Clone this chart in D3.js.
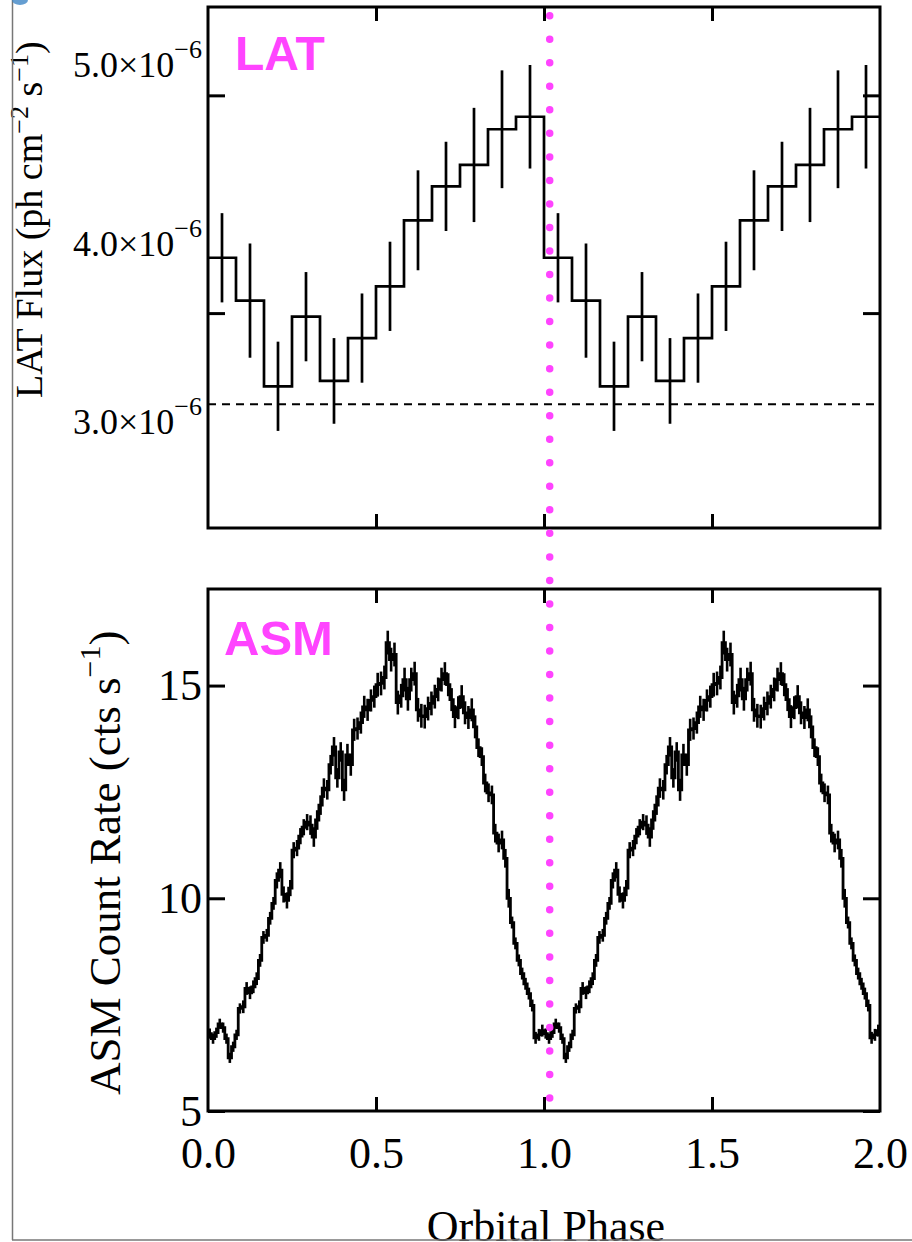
<!DOCTYPE html>
<html>
<head>
<meta charset="utf-8">
<script src="https://cdn.jsdelivr.net/npm/d3@7"></script>
<style>
  body { margin: 0; background: #fff; }
  svg { display: block; }
</style>
</head>
<body>
<script>
// LAT flux, 12 phase bins over one orbit (ph cm^-2 s^-1)
const latFlux = [3.92e-6, 3.68e-6, 3.20e-6, 3.59e-6, 3.23e-6, 3.47e-6,
                 3.76e-6, 4.13e-6, 4.32e-6, 4.44e-6, 4.64e-6, 4.71e-6];
const latErr  = [0.25e-6, 0.32e-6, 0.25e-6, 0.25e-6, 0.24e-6, 0.25e-6,
                 0.25e-6, 0.28e-6, 0.25e-6, 0.32e-6, 0.33e-6, 0.29e-6];
const latBaseline = 3.10e-6;
const latLabelTicks = [3e-6, 4e-6, 5e-6];
const latTickMarks = [4.83e-6, 3.61e-6];

// ASM count rate, 100 phase bins over one orbit (cts s^-1)
const asmRate = [
  6.82, 6.70, 6.84, 7.05, 6.96, 6.70, 6.25, 6.51, 6.79, 7.41,
  7.45, 7.88, 7.78, 7.92, 8.11, 8.54, 9.08, 9.13, 9.53, 9.88,
  10.42, 10.66, 10.09, 9.95, 10.24, 11.13, 11.18, 11.46, 11.67, 11.79,
  11.72, 11.44, 11.84, 12.19, 12.59, 12.55, 13.14, 13.56, 12.83, 13.44,
  12.55, 13.37, 13.14, 13.96, 13.99, 14.13, 14.50, 14.43, 14.65, 14.74,
  15.02, 15.05, 15.19, 16.01, 15.61, 15.73, 14.60, 14.76, 15.14, 14.69,
  15.14, 15.28, 14.43, 14.29, 14.27, 14.46, 14.58, 14.74, 14.91, 15.14,
  15.28, 15.02, 14.67, 14.27, 14.48, 14.74, 14.36, 14.25, 14.43, 14.03,
  13.54, 13.33, 12.71, 12.48, 12.43, 11.53, 11.30, 11.37, 10.94, 10.00,
  9.43, 8.94, 8.54, 8.23, 7.99, 7.76, 7.48, 6.72, 6.79, 6.89
];
const asmErr = [
  0.12, 0.12, 0.12, 0.12, 0.12, 0.12, 0.12, 0.12, 0.12, 0.12,
  0.15, 0.15, 0.15, 0.15, 0.15, 0.15, 0.15, 0.15, 0.15, 0.15,
  0.19, 0.19, 0.19, 0.19, 0.19, 0.19, 0.19, 0.19, 0.19, 0.19,
  0.23, 0.23, 0.23, 0.23, 0.23, 0.23, 0.23, 0.23, 0.23, 0.23,
  0.26, 0.26, 0.26, 0.26, 0.26, 0.26, 0.26, 0.26, 0.26, 0.26,
  0.28, 0.28, 0.28, 0.28, 0.28, 0.28, 0.28, 0.28, 0.28, 0.28,
  0.28, 0.28, 0.28, 0.28, 0.28, 0.28, 0.28, 0.28, 0.28, 0.28,
  0.27, 0.27, 0.27, 0.27, 0.27, 0.27, 0.27, 0.27, 0.27, 0.27,
  0.22, 0.22, 0.22, 0.22, 0.22, 0.22, 0.22, 0.22, 0.22, 0.22,
  0.14, 0.14, 0.14, 0.14, 0.14, 0.14, 0.14, 0.14, 0.14, 0.14
];
const asmTicks = [5, 10, 15];

const phaseTicks = [0, 0.5, 1, 1.5, 2];
const innerPhaseTicks = [0.5, 1, 1.5];
const cycles = [0, 1];
const markerPhase = 1.017;

const magenta = "#ff44ff";
const serif = "'Liberation Serif', 'Times New Roman', serif";
const sans = "'Liberation Sans', Arial, sans-serif";

const svg = d3.select("body").append("svg")
    .attr("width", 912)
    .attr("height", 1242);

svg.append("rect").attr("width", 912).attr("height", 1242).attr("fill", "#fff");

const x = d3.scaleLinear().domain([0, 2]).range([208, 880]);
const yLat = d3.scaleLinear().domain([2.406e-6, 5.325e-6]).range([528, 7]);
const yAsm = d3.scaleLinear().domain([5, 17.27]).range([1111, 589]);

// repeat the folded light curve over two cycles
function foldBins(vals, errs) {
  const n = vals.length, out = [];
  cycles.forEach(c => vals.forEach((v, i) => {
    out.push({ x0: c + i / n, x1: c + (i + 1) / n, v: v, e: errs[i] });
  }));
  return out;
}

function drawHist(bins, y, lw, ew) {
  const pts = bins.map(b => [b.x0, b.v]);
  pts.push([bins[bins.length - 1].x1, bins[bins.length - 1].v]);
  const line = d3.line()
      .x(d => x(d[0]))
      .y(d => y(d[1]))
      .curve(d3.curveStepAfter);
  const g = svg.append("g").attr("stroke", "#000").attr("fill", "none");
  g.append("path")
      .attr("d", line(pts))
      .attr("stroke-width", lw)
      .attr("stroke-linejoin", "miter");
  g.selectAll("line")
    .data(bins)
    .enter().append("line")
      .attr("x1", d => x((d.x0 + d.x1) / 2))
      .attr("x2", d => x((d.x0 + d.x1) / 2))
      .attr("y1", d => y(d.v - d.e))
      .attr("y2", d => y(d.v + d.e))
      .attr("stroke-width", ew);
}

function styleAxis(g, size) {
  g.select(".domain").remove();
  g.selectAll(".tick line").attr("stroke", "#000").attr("stroke-width", 3);
  g.selectAll(".tick text")
      .attr("fill", "#000")
      .attr("font-family", serif)
      .attr("font-size", size);
}

function frame(top, bottom) {
  svg.append("rect")
      .attr("x", x(0)).attr("y", top)
      .attr("width", x(2) - x(0)).attr("height", bottom - top)
      .attr("fill", "none").attr("stroke", "#000").attr("stroke-width", 3);
}

// ---------- LAT panel ----------
svg.append("line")
    .attr("x1", x(0)).attr("x2", x(2))
    .attr("y1", yLat(latBaseline)).attr("y2", yLat(latBaseline))
    .attr("stroke", "#000").attr("stroke-width", 2)
    .attr("stroke-dasharray", "8,6");

drawHist(foldBins(latFlux, latErr), yLat, 2.7, 2.7);

svg.append("g").attr("transform", "translate(208,0)")
    .call(d3.axisLeft(yLat).tickValues(latTickMarks).tickSize(-17).tickFormat(""))
    .call(g => styleAxis(g, 36));
svg.append("g").attr("transform", "translate(880,0)")
    .call(d3.axisRight(yLat).tickValues(latTickMarks).tickSize(-17).tickFormat(""))
    .call(g => styleAxis(g, 36));
svg.append("g").attr("transform", "translate(0,7)")
    .call(d3.axisTop(x).tickValues(innerPhaseTicks).tickSize(-14).tickFormat(""))
    .call(g => styleAxis(g, 36));
svg.append("g").attr("transform", "translate(0,528)")
    .call(d3.axisBottom(x).tickValues(innerPhaseTicks).tickSize(-14).tickFormat(""))
    .call(g => styleAxis(g, 36));

const latLabels = svg.append("g").attr("transform", "translate(208,0)")
    .call(d3.axisLeft(yLat).tickValues(latLabelTicks).tickSize(0).tickPadding(6))
    .call(g => styleAxis(g, 36));
latLabels.selectAll(".tick text").each(function (d) {
  const t = d3.select(this);
  t.text(null);
  t.append("tspan").text((d * 1e6).toFixed(1) + "×10");
  t.append("tspan").attr("dy", -19).attr("font-size", 26).text("−6");
});
latLabels.selectAll(".tick line").remove();

frame(7, 528);

svg.append("text")
    .attr("x", 235).attr("y", 70)
    .attr("font-family", sans).attr("font-weight", "bold")
    .attr("font-size", 48).attr("fill", magenta)
    .text("LAT");

const latTitle = svg.append("text")
    .attr("transform", "translate(42,398) rotate(-90)")
    .attr("font-family", serif).attr("font-size", 38);
latTitle.append("tspan").text("LAT Flux (ph cm");
latTitle.append("tspan").attr("dy", -14).attr("font-size", 26).text("−2");
latTitle.append("tspan").attr("dy", 14).text(" s");
latTitle.append("tspan").attr("dy", -14).attr("font-size", 26).text("−1");
latTitle.append("tspan").attr("dy", 14).text(")");

// ---------- ASM panel ----------
drawHist(foldBins(asmRate, asmErr), yAsm, 2.8, 2.6);

svg.append("g").attr("transform", "translate(208,0)")
    .call(d3.axisLeft(yAsm).tickValues(asmTicks).tickSize(-17).tickPadding(6))
    .call(g => styleAxis(g, 44));
svg.append("g").attr("transform", "translate(880,0)")
    .call(d3.axisRight(yAsm).tickValues(asmTicks).tickSize(-17).tickFormat(""))
    .call(g => styleAxis(g, 44));
svg.append("g").attr("transform", "translate(0,589)")
    .call(d3.axisTop(x).tickValues(innerPhaseTicks).tickSize(-14).tickFormat(""))
    .call(g => styleAxis(g, 44));
const asmX = svg.append("g").attr("transform", "translate(0,1111)")
    .call(d3.axisBottom(x).tickValues(phaseTicks).tickSize(-14).tickPadding(26)
      .tickFormat(d3.format(".1f")))
    .call(g => styleAxis(g, 44));
asmX.selectAll(".tick line").filter(d => d === 0 || d === 2).remove();

frame(589, 1111);

svg.append("text")
    .attr("x", 224).attr("y", 655)
    .attr("font-family", sans).attr("font-weight", "bold")
    .attr("font-size", 49).attr("fill", magenta)
    .text("ASM");

const asmTitle = svg.append("text")
    .attr("transform", "translate(120,1095) rotate(-90)")
    .attr("font-family", serif).attr("font-size", 45);
asmTitle.append("tspan").text("ASM Count Rate (cts s");
asmTitle.append("tspan").attr("dy", -20).attr("font-size", 30).text("−1");
asmTitle.append("tspan").attr("dy", 20).text(")");

svg.append("text")
    .attr("x", 546).attr("y", 1241)
    .attr("text-anchor", "middle")
    .attr("font-family", serif).attr("font-size", 44)
    .text("Orbital Phase");

// orbital phase marker running through both panels
svg.append("line")
    .attr("x1", x(markerPhase)).attr("x2", x(markerPhase))
    .attr("y1", 15.7).attr("y2", 1100)
    .attr("stroke", magenta).attr("stroke-width", 7.5)
    .attr("stroke-linecap", "round")
    .attr("stroke-dasharray", "0,23.53");

// page frame left over from the original figure
svg.append("line")
    .attr("x1", 12.5).attr("x2", 12.5).attr("y1", 0).attr("y2", 1240)
    .attr("stroke", "#777").attr("stroke-width", 1.5);
svg.append("line")
    .attr("x1", 12).attr("x2", 912).attr("y1", 1240).attr("y2", 1240)
    .attr("stroke", "#777").attr("stroke-width", 1.5);
svg.append("ellipse")
    .attr("cx", 20).attr("cy", 0).attr("rx", 8).attr("ry", 5)
    .attr("fill", "#3f86c6").attr("opacity", 0.8);
</script>
</body>
</html>
